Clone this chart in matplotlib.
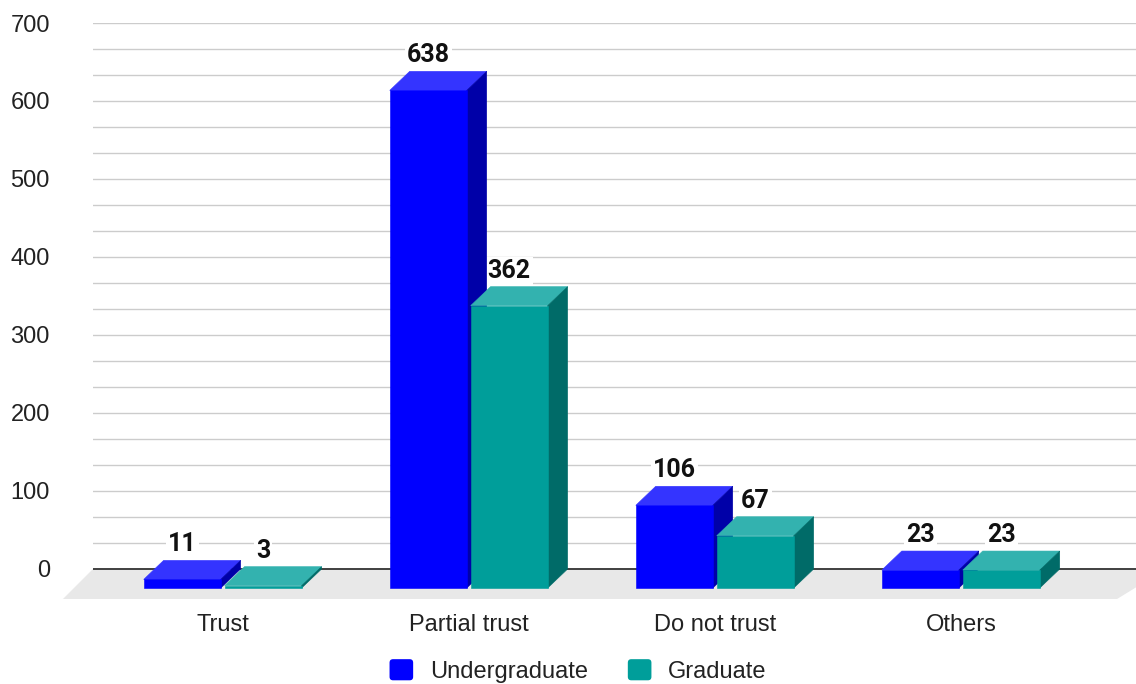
import matplotlib.pyplot as plt
from matplotlib.patches import Polygon, Patch, FancyBboxPatch
from matplotlib.legend_handler import HandlerPatch
from matplotlib.ticker import FixedLocator
import numpy as np

categories = ["Trust", "Partial trust", "Do not trust", "Others"]
undergraduate = [11, 638, 106, 23]
graduate = [3, 362, 67, 23]
series_names = ["Undergraduate", "Graduate"]
y_ticks = [0, 100, 200, 300, 400, 500, 600, 700]

# (front, top, side) face colours for each series
UG_COLORS = ("#0000ff", "#3434ff", "#0000a8")
GR_COLORS = ("#009e9a", "#33b2af", "#006b68")

BAR_W = 0.313      # width of a bar's front face, in category units
GAP = 0.016        # gap between the two bars of a group
DEPTH_X = 0.081    # bar depth offset (category units)
DEPTH_Y = 24.4     # bar depth offset (value units)
FLOOR_X = 0.122
FLOOR_Y = 38.5

W, H = 1136, 684
fig = plt.figure(figsize=(W / 100, H / 100), dpi=100)
ax = fig.add_axes([93 / W, (H - 599) / H, (W - 93) / W, (599 - 23) / H])
ax.set_xlim(-0.527, 3.712)
ax.set_ylim(-FLOOR_Y, 700)
for s in ax.spines.values():
    s.set_visible(False)

# gridlines: labelled every 100, two extra lines in between
ax.set_yticks(y_ticks)
ax.yaxis.set_minor_locator(FixedLocator([k * 100 / 3 for k in range(1, 21) if k % 3]))
ax.grid(axis="y", which="both", color="#cccccc", linewidth=1.0, zorder=0)
ax.set_axisbelow(True)
ax.tick_params(axis="y", which="both", length=0, pad=31, labelsize=17,
               labelcolor="#222222", labelfontfamily="Liberation Sans")

# floor under the bars
xl, xr = ax.get_xlim()
floor = Polygon([(xl, 0), (xr + FLOOR_X, 0), (xr - 0.077, -FLOOR_Y),
                 (xl - FLOOR_X, -FLOOR_Y)],
                closed=True, facecolor="#e8e8e8", edgecolor="none", zorder=1, clip_on=False)
ax.add_patch(floor)
ax.axhline(0, color="#333333", linewidth=1.3, zorder=1.5)


def draw_bar(x0, v, colors):
    front, top, side = colors
    x1 = x0 + BAR_W
    kw = dict(closed=True, linewidth=0.4, zorder=3, clip_on=False)
    # top and side first, front face last so its edge hides the seams
    ax.add_patch(Polygon([(x0, v - DEPTH_Y), (x1, v - DEPTH_Y), (x1 + DEPTH_X, v), (x0 + DEPTH_X, v)],
                         facecolor=top, edgecolor=top, **kw))
    ax.add_patch(Polygon([(x1, -DEPTH_Y), (x1 + DEPTH_X, 0), (x1 + DEPTH_X, v), (x1, v - DEPTH_Y)],
                         facecolor=side, edgecolor=side, **kw))
    ax.add_patch(Polygon([(x0, -DEPTH_Y), (x1, -DEPTH_Y), (x1, v - DEPTH_Y), (x0, v - DEPTH_Y)],
                         facecolor=front, edgecolor=front, **kw))
    ax.annotate(str(v), (x0 + BAR_W / 2, v), xytext=(0, 6.5), textcoords="offset points",
                ha="center", va="baseline", fontsize=18, fontweight="bold",
                family="Roboto", color="#111111", zorder=2,
                bbox=dict(facecolor="white", edgecolor="none", pad=1.5))


x = np.arange(len(categories))
for i in x:
    draw_bar(i - GAP / 2 - BAR_W, undergraduate[i], UG_COLORS)
    draw_bar(i + GAP / 2, graduate[i], GR_COLORS)

ax.set_xticks(x, categories)
ax.tick_params(axis="x", length=0, pad=10.5, labelsize=17, labelcolor="#222222",
               labelfontfamily="Liberation Sans")


def rounded_square(legend, orig_handle, xdescent, ydescent, width, height, fontsize):
    return FancyBboxPatch((-xdescent, -ydescent), width, height,
                          boxstyle="round,pad=0,rounding_size=2.5")


handles = [Patch(facecolor=UG_COLORS[0]), Patch(facecolor=GR_COLORS[0])]
fig.legend(handles, series_names, loc="center", bbox_to_anchor=(578 / W, 13 / H),
           ncol=2, frameon=False, handlelength=1.0, handleheight=1.0,
           handletextpad=0.7, columnspacing=1.7,
           prop={"family": "Liberation Sans", "size": 17}, labelcolor="#222222",
           handler_map={Patch: HandlerPatch(patch_func=rounded_square)})

fig.savefig("out.png", dpi=100)
